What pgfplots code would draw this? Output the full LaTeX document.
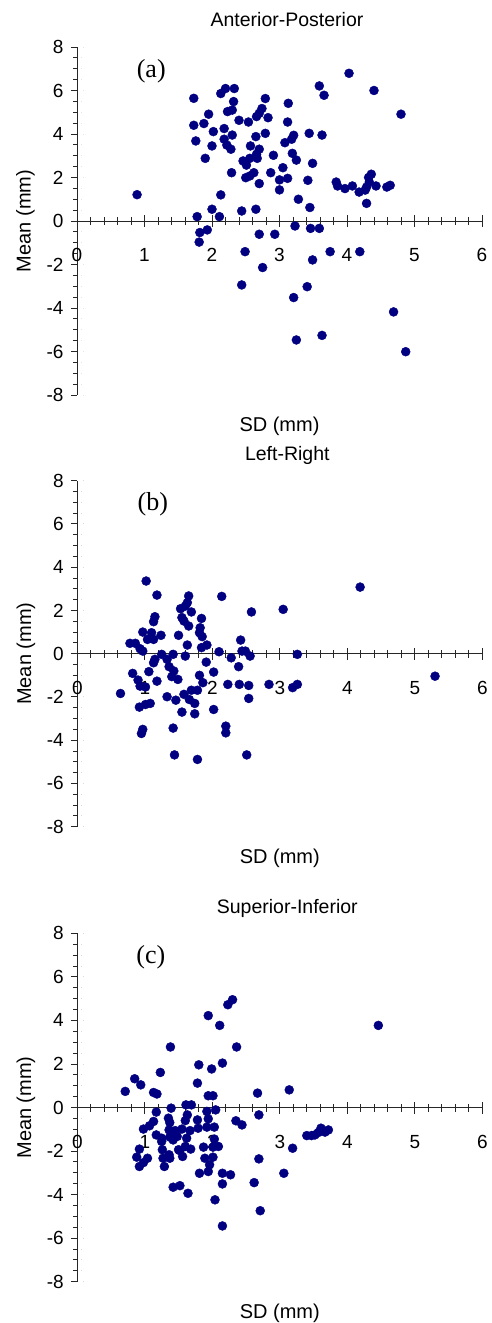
\documentclass[border=0pt]{standalone}
\usepackage{fontspec}
\setmainfont{Liberation Sans}
\newfontfamily\tagfont{Liberation Serif}
\usepackage{pgfplots}
\pgfplotsset{compat=1.18}
\usepackage{pgfplotstable}
\definecolor{dotblue}{RGB}{0,0,128}

% Anterior-Posterior: SD and mean of the displacement (mm)
\pgfplotstableread{
sd mean
1.73 5.64
2.13 5.86
2.20 6.09
2.33 6.09
2.32 5.49
2.23 5.03
2.30 5.10
1.95 4.91
1.73 4.40
1.88 4.48
2.02 4.11
1.76 3.68
2.00 3.45
1.90 2.88
2.18 4.25
2.30 3.95
2.18 3.76
2.22 3.49
2.28 3.30
2.40 4.63
2.54 4.55
2.29 2.22
2.13 1.20
2.00 0.54
1.78 0.20
2.11 0.20
2.44 0.46
2.65 0.54
1.82 -0.53
1.93 -0.41
1.81 -0.97
2.70 -0.61
2.93 -0.61
3.23 -0.23
3.46 -0.34
3.59 -0.34
2.79 5.63
2.74 5.17
2.70 4.95
2.66 4.80
2.83 4.75
3.13 5.41
3.12 4.55
3.59 6.21
3.66 5.78
4.03 6.79
4.40 6.00
4.80 4.91
2.79 4.03
2.65 3.88
3.21 3.94
3.18 3.76
3.08 3.60
3.44 4.03
3.63 3.95
2.57 3.45
2.70 3.30
2.66 3.07
2.56 2.88
2.67 2.88
2.46 2.76
2.51 2.57
2.91 3.02
3.19 3.11
3.25 2.80
3.05 2.45
3.49 2.65
2.87 2.22
2.62 2.22
2.56 2.07
2.50 1.99
2.70 1.72
3.00 1.89
3.12 1.96
3.00 1.43
3.42 1.87
3.28 1.00
3.45 0.62
3.84 1.79
3.86 1.61
3.97 1.49
4.08 1.61
4.18 1.33
4.29 1.56
4.27 1.42
4.32 2.00
4.36 2.15
4.33 1.79
4.43 1.61
4.59 1.56
4.64 1.64
4.29 0.81
0.89 1.21
2.49 -1.41
2.44 -2.94
2.75 -2.14
3.21 -3.52
3.25 -5.47
3.41 -3.02
3.49 -1.79
3.63 -5.26
3.75 -1.41
4.19 -1.41
4.69 -4.18
4.87 -6.01
}\dataAP

% Left-Right
\pgfplotstableread{
sd mean
1.02 3.36
1.18 2.71
1.65 2.67
2.14 2.65
2.58 1.93
1.63 2.36
1.60 2.20
1.53 2.08
1.69 1.93
1.15 1.71
1.13 1.48
1.55 1.67
1.58 1.51
1.65 1.28
1.84 1.63
1.82 1.20
1.85 0.79
1.81 0.97
0.97 1.00
1.10 0.97
1.24 0.85
1.04 0.66
1.13 0.66
0.78 0.48
0.86 0.48
0.93 0.23
0.97 0.12
1.50 0.85
1.63 0.40
1.84 0.28
1.92 0.40
2.10 0.09
2.42 0.63
2.44 0.12
2.49 0.12
2.56 -0.11
2.28 -0.19
2.39 -0.60
1.91 -0.39
1.60 -0.11
1.42 -0.03
1.25 -0.03
1.15 -0.26
1.13 -0.42
1.33 -0.26
1.36 -0.60
1.43 -0.80
1.40 -1.06
1.49 -1.19
1.06 -0.83
0.82 -0.91
0.90 -1.22
0.93 -1.50
1.01 -1.54
1.18 -1.27
0.64 -1.84
1.81 -1.00
1.86 -1.34
2.02 -0.85
2.23 -1.42
2.40 -1.42
2.54 -1.47
2.54 -2.07
2.84 -1.42
1.69 -1.69
1.78 -1.69
1.58 -1.88
1.66 -2.12
1.74 -2.30
1.33 -1.99
1.46 -2.15
0.92 -2.47
1.01 -2.35
1.08 -2.30
1.55 -2.70
1.74 -2.78
2.02 -2.58
2.20 -3.35
2.20 -3.66
0.97 -3.50
0.95 -3.69
1.42 -3.44
1.44 -4.68
1.78 -4.89
2.51 -4.68
3.05 2.05
4.19 3.08
3.26 -0.03
5.30 -1.04
3.19 -1.57
3.26 -1.42
}\dataLR

% Superior-Inferior
\pgfplotstableread{
sd mean
1.38 2.78
2.36 2.78
1.80 1.96
2.15 2.04
1.99 1.77
1.23 1.61
0.85 1.32
0.94 1.04
0.71 0.74
1.13 0.69
1.18 0.62
1.78 1.12
1.94 0.54
2.01 0.54
2.67 0.66
2.69 -0.34
2.35 -0.61
2.44 -0.80
1.61 0.12
1.69 0.12
1.39 -0.03
1.17 -0.21
1.92 -0.18
2.05 -0.11
1.94 -0.52
1.78 -0.57
1.63 -0.34
1.60 -0.60
1.35 -0.49
1.37 -0.69
1.13 -0.64
1.07 -0.84
0.98 -0.99
1.36 -1.03
1.45 -1.06
1.55 -0.99
1.67 -1.06
1.79 -0.95
1.92 -0.90
2.03 -0.90
1.17 -1.26
1.25 -1.41
1.37 -1.36
1.48 -1.33
1.62 -1.41
1.25 -1.56
2.03 -1.45
2.01 -1.82
2.09 -1.79
1.87 -1.82
1.68 -1.91
1.52 -1.98
0.92 -1.91
0.88 -2.28
1.04 -2.33
0.98 -2.53
0.92 -2.71
1.26 -1.94
1.27 -2.33
1.36 -2.17
1.37 -2.33
1.29 -2.71
1.56 -2.25
1.50 -1.94
1.89 -2.33
2.01 -2.28
1.96 -2.63
1.94 -2.94
1.81 -3.02
2.15 -3.02
2.27 -3.09
2.15 -3.51
2.62 -3.45
2.69 -2.36
2.71 -4.74
1.42 -3.66
1.52 -3.59
1.64 -3.94
2.04 -4.24
2.15 -5.44
1.42 -1.49
1.60 -1.79
1.94 4.22
2.11 3.77
2.23 4.72
2.30 4.95
3.14 0.81
4.46 3.77
3.19 -1.87
3.06 -3.02
3.40 -1.29
3.47 -1.29
3.52 -1.26
3.57 -1.15
3.61 -0.95
3.67 -1.13
3.72 -1.03
}\dataSI

\pgfplotsset{
  scatterpanel/.style={
    scale only axis, width=405pt,
    xmin=0, xmax=6, ymin=-8, ymax=8,
    axis x line=middle, axis y line=left,
    axis line style={-, line width=0.9pt, black!85},
    xtick={0,1,...,6}, ytick={-8,-6,...,8},
    minor x tick num=4, minor y tick num=3,
    tick align=center,
    major tick length=12pt, minor tick length=8pt,
    tick style={line width=0.9pt, black!85},
    % y ticks only on the outer side of the axis line
    major y tick style={dash pattern=on 6pt off 6pt},
    minor y tick style={dash pattern=on 4pt off 4pt},
    hide obscured x ticks=false, hide obscured y ticks=false,
    /pgf/number format/assume math mode=true,
    ticklabel style={font=\fontsize{19}{19}\selectfont},
    xticklabel style={yshift=-18pt},
    yticklabel style={xshift=-4pt},
    label style={font=\fontsize{20}{20}\selectfont},
    xlabel style={at={(axis description cs:0.5,0)}, anchor=base, yshift=-37pt},
    ylabel style={at={(axis description cs:-0.127,0.5)}, anchor=center},
    title style={at={(axis description cs:0.5,1)}, anchor=base,
      xshift=7.5pt, yshift=14pt, font=\fontsize{19.5}{19.5}\selectfont},
    xlabel={SD (mm)}, ylabel={Mean (mm)},
    clip=false,
  },
  dots/.style={only marks, mark=*, mark size=4.5pt, color=dotblue,
    mark options={draw=dotblue, fill=dotblue}},
}

\begin{document}
\begin{tikzpicture}
\path[use as bounding box] (0,0) rectangle (491pt,1323pt);

\begin{axis}[scatterpanel, at={(77pt,928pt)}, anchor=south west,
  height=348pt, title={Anterior-Posterior}]
  \addplot[dots] table[x=sd, y=mean] {\dataAP};
  \node[font=\tagfont\fontsize{26}{26}\selectfont] at (axis cs:1.1,6.9) {(a)};
\end{axis}

\begin{axis}[scatterpanel, at={(77.3pt,496.3pt)}, anchor=south west,
  height=346pt, title={Left-Right}]
  \addplot[dots] table[x=sd, y=mean] {\dataLR};
  \node[font=\tagfont\fontsize{26}{26}\selectfont] at (axis cs:1.12,6.9) {(b)};
\end{axis}

\begin{axis}[scatterpanel, at={(77.3pt,41.3pt)}, anchor=south west,
  height=348.4pt, title={Superior-Inferior}]
  \addplot[dots] table[x=sd, y=mean] {\dataSI};
  \node[font=\tagfont\fontsize{26}{26}\selectfont] at (axis cs:1.09,6.88) {(c)};
\end{axis}
\end{tikzpicture}
\end{document}
